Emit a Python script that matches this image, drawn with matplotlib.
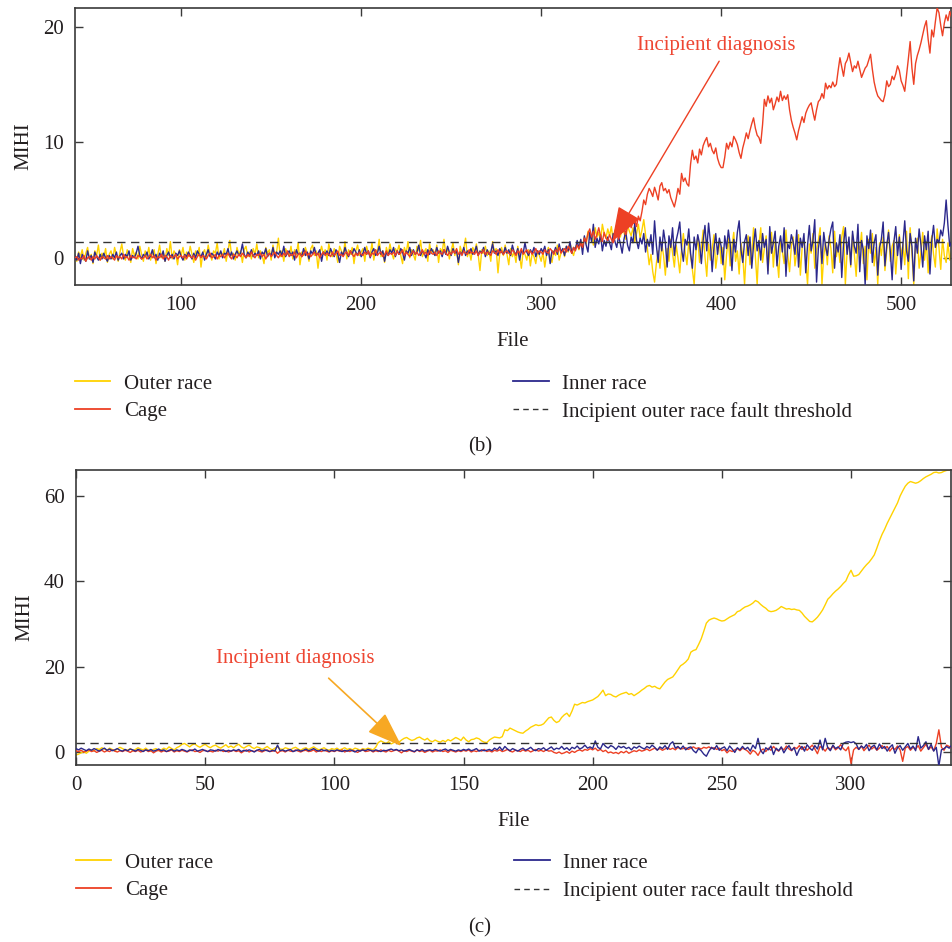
import numpy as np
import matplotlib
matplotlib.use("Agg")
import matplotlib.pyplot as plt
from matplotlib.lines import Line2D

plt.rcParams['font.family'] = ['Liberation Serif', 'DejaVu Serif']
plt.rcParams['text.color'] = '#231f20'
plt.rcParams['axes.labelcolor'] = '#231f20'
plt.rcParams['xtick.color'] = '#231f20'
plt.rcParams['ytick.color'] = '#231f20'

YELLOW = '#ffd200'
RED = '#ed4024'
BLUE = '#2b288c'
TXT_RED = '#ee4632'
ORANGE = '#f7a823'

# ---------------- panel (b): files 41 .. 528 ----------------
b_start = 41
b_threshold = 1.4

b_outer = [
    0.2, -0.3, 0.5, 0.1, 0.7, -0.2, 0.4, 0.9, -0.1, 0.3, -0.5, 0.6, 0.2, 1.1, -0.2, 0.4, 0.0, 0.8, -0.4, 0.3,
    0.6, -0.1, 0.9, 0.2, -0.3, 0.5, 1.2, 0.1, -0.2, 0.7, 0.3, -0.4, 0.8, 0.2, 0.5, -0.1, 1.0, 0.3, -0.3, 0.6,
    0.1, 0.9, -0.2, 0.4, 0.7, -0.5, 0.3, 1.1, 0.0, 0.5, -0.3, 0.8, 0.2, 1.4, -0.1, 0.6, 0.3, -0.6, 0.7, 0.2,
    0.9, -0.2, 0.5, 0.1, 1.0, 0.3, -0.4, 0.6, 0.2, 0.9, -0.8, 0.4, 0.7, 0.0, 1.1, 0.3, -0.2, 0.6, 0.4, 1.3,
    -0.1, 0.5, 0.2, 0.8, -0.3, 0.6, 1.5, 0.2, 0.4, -0.2, 0.9, 0.3, 0.6, -0.4, 0.7, 1.0, 0.1, 0.5, -0.1, 0.8,
    0.3, 1.2, 0.0, 0.6, 0.2, -0.5, 0.9, 0.4, 0.7, -0.2, 1.1, 0.3, 0.5, 1.7, 0.1, 0.6, -0.3, 0.8, 0.4, 0.2,
    1.0, -0.1, 0.7, 0.3, 1.3, -0.6, 0.5, 0.2, 0.9, 0.4, -0.3, 0.8, 1.1, 0.2, 0.6, -0.9, 0.4, 1.0, 0.3, 0.7,
    -0.2, 1.2, 0.5, 0.1, 0.8, 0.4, -0.4, 1.0, 0.6, 0.2, 1.4, -0.1, 0.7, 0.3, 0.9, -0.5, 0.6, 1.1, 0.2, 0.5,
    0.8, -0.3, 1.0, 0.4, 0.2, 1.3, -0.2, 0.7, 0.5, 1.6, 0.1, 0.6, -0.4, 0.9, 0.3, 1.2, 0.4, -0.1, 0.8, 0.5,
    1.1, 0.2, -0.5, 0.9, 0.4, 1.4, 0.0, 0.7, 0.3, -0.2, 1.0, 0.6, 1.5, 0.1, 0.5, 0.8, -0.3, 1.2, 0.4, 0.7,
    0.2, 1.1, -0.4, 0.8, 0.5, 1.6, 0.3, 0.9, -0.1, 0.6, 1.3, 0.2, 0.7, -0.6, 1.0, 0.4, 0.8, 1.7, 0.1, 0.6,
    -0.2, 0.9, 0.5, 1.2, 0.3, -1.1, 0.7, 0.4, 1.0, 0.2, 0.6, -0.3, 1.4, 0.5, 0.8, -1.3, 0.4, 0.9, 0.2, 1.1,
    0.3, -0.6, 0.8, 0.1, 0.5, -0.4, 1.0, 0.2, -0.9, 0.6, 0.3, -0.2, 0.7, -0.7, 0.4, 0.1, -0.5, 0.6, 0.2, -0.3,
    0.5, -0.8, 0.3, 0.9, 0.0, -0.4, 0.6, 0.2, 1.1, -0.2, 0.4, 0.8, 0.1, 1.0, 0.5, 1.3, 0.6, 0.2, 0.9, 1.2,
    0.7, 1.5, 0.9, 1.8, 1.2, 2.3, 1.6, 2.0, 1.1, 2.6, 1.8, 2.2, 1.4, 2.9, 2.1, 1.7, 2.5, 1.9, 2.7, 1.5,
    2.4, 2.0, 3.0, 1.8, 2.6, 2.2, 1.6, 2.8, 2.3, 1.9, 2.6, 1.4, 2.1, 2.9, 1.7, 2.4, 3.3, 2.0, 0.8, -0.6,
    0.3, -1.2, -2.1, -0.5, 0.6, -0.9, 1.2, 0.2, -1.5, 0.8, -0.3, 1.6, 0.4, -0.8, 1.1, 0.0, -1.3, 0.7, 2.1, 0.5,
    -0.6, 1.4, 0.2, -1.0, -2.3, 0.6, 1.8, -0.4, 0.9, 2.4, 0.1, -1.6, 1.2, -0.2, 0.8, 2.0, -0.9, 0.4, 1.5, -0.5,
    0.9, -1.9, 0.3, 1.7, -0.7, 1.0, 2.2, -0.3, 0.6, -1.4, 1.3, 0.2, -2.3, 0.7, 1.9, -0.6, 0.4, 2.6, 0.1, -2.3,
    1.1, 2.6, -0.4, 0.8, 1.9, -1.1, 0.5, 2.2, -0.8, 1.4, 0.0, -1.7, 1.6, 0.6, -0.5, 2.4, 0.3, -1.2, 1.0, 1.8,
    -0.7, 0.5, 2.0, -1.5, 0.9, 1.7, -0.3, -2.3, 1.2, 0.4, 2.1, -0.9, 0.7, 1.5, 2.6, -2.3, 0.2, 1.3, -0.6, 1.9,
    0.8, -1.3, 2.3, 0.1, 1.1, -0.4, 1.8, 2.7, -2.3, 0.6, 1.4, -0.8, 2.0, 0.3, -1.6, 1.2, 0.7, 2.2, -0.5, 1.0,
    -1.9, 1.6, 0.4, 2.1, -0.7, 0.9, -2.3, 1.3, 0.2, 1.8, -1.1, 0.6, 2.4, -0.3, 1.0, 1.5, -1.4, 0.8, 2.0, 0.1,
    1.2, -0.6, 2.3, -1.8, 2.6, 0.4, -2.3, 1.1, 1.7, -0.9, 0.5, 2.2, -0.2, 1.4, -1.3, 0.8, 1.9, 0.3, -0.8, 2.5,
    0.9, -1.0, 1.6, 0.2, -0.4, 1.3, -0.2, 0.6,
]

b_inner = [
    0.1, -0.2, 0.4, -0.5, 0.3, 0.0, -0.3, 0.6, -0.1, 0.2, -0.4, 0.5, 0.1, -0.2, 0.3, -0.1, 0.4, 0.0, -0.3, 0.2,
    -0.1, 0.3, 0.0, 0.5, -0.2, 0.2, 0.4, -0.1, 0.3, 0.1, 0.6, -0.2, 0.2, 0.0, 0.4, 1.0, 0.2, -0.1, 0.3, 0.1,
    0.5, -0.1, 0.2, 0.7, 0.0, 0.3, -0.2, 0.4, 0.1, 0.6, -0.3, 0.2, 0.5, 0.0, 0.3, -0.1, 0.4, 0.2, 0.6, 0.1,
    -0.2, 0.3, 0.1, 0.5, 0.2, -0.1, 0.4, 0.0, 0.6, 0.3, 0.1, 0.5, -0.2, 0.3, 0.7, 0.1, 0.4, 0.2, -0.1, 0.5,
    0.2, 0.6, 0.0, 0.4, 0.3, 0.8, 0.1, 0.5, -0.1, 0.3, 0.6, 0.2, 0.4, 1.2, 0.3, 0.0, 0.5, 0.2, 0.7, 0.1,
    0.4, 0.2, 0.6, -0.1, 0.5, 0.3, 0.8, 0.1, 0.4, 0.2, 0.9, 0.0, 0.5, 0.3, 0.6, 0.2, 1.0, 0.1, 0.4, 0.6,
    0.2, 0.5, -0.2, 0.7, 0.3, 0.4, 0.1, 0.8, 0.2, 0.5, -0.1, 0.6, 0.3, 0.9, 0.2, 0.4, 0.7, -0.3, 0.5, 0.3,
    0.6, 0.2, 0.8, 0.4, 0.1, 0.7, 0.3, -0.4, 0.5, 0.2, 0.9, 0.4, 0.1, 0.6, 0.3, 0.8, 0.5, 0.2, 0.7, 0.1,
    0.4, 0.9, 0.3, 0.6, 0.0, 0.5, 0.8, 0.2, 0.4, 1.0, 0.3, 0.6, -0.3, 0.5, 0.2, 0.7, 0.4, 0.9, 0.1, 0.6,
    0.3, 0.8, 0.5, -0.2, 0.6, 0.4, 0.9, 0.2, 0.7, 0.3, 0.5, 1.1, 0.2, 0.6, 0.4, 0.0, 0.7, 0.3, 0.8, 0.5,
    0.2, 0.9, 0.4, 0.6, 0.1, 0.7, 0.3, 1.0, 0.5, 0.2, 0.8, 0.4, 0.6, -0.4, 0.5, 0.3, 0.9, 0.2, 0.6, 0.4,
    0.8, 0.3, 0.5, 1.0, 0.2, 0.6, 0.4, 0.9, 0.1, 0.7, 0.3, 0.5, 1.2, 0.4, 0.6, 0.2, 0.8, 0.5, 0.3, 0.9,
    0.4, 0.7, 0.2, 1.1, 0.5, 0.3, 0.8, -0.2, 0.6, 0.4, 1.3, 0.5, 0.2, 0.7, 0.4, 0.9, 0.1, 0.6, 0.3, 0.8,
    0.5, 1.0, 0.2, 0.7, -0.5, 0.6, 0.4, 0.9, 0.3, 1.2, 0.5, 0.8, 0.2, 1.0, 0.6, 1.4, 0.4, 0.9, 0.7, 1.5,
    0.8, 1.6, 0.3, 1.9, 1.1, 0.5, 2.2, 1.4, 2.9, 0.9, 1.7, 1.2, 2.0, 0.6, 1.5, 1.0, 1.8, 1.3, 0.7, 2.1,
    1.4, 0.9, 1.9, 1.2, 0.4, 1.6, 2.3, 1.1, 0.6, 1.8, 1.3, 3.0, 1.5, 0.8, 1.7, 1.2, 2.1, 0.5, 1.6, 1.0,
    2.0, 0.3, 3.2, 1.1, -0.4, 1.8, 0.6, 2.4, 1.3, -0.8, 1.9, 0.9, 2.6, 0.2, 1.5, 2.2, 3.1, 0.8, -0.3, 1.6,
    1.1, 2.5, 0.4, -0.9, 1.8, 0.7, 2.0, 1.2, -0.5, 1.5, 2.8, 0.6, 3.0, 1.4, -1.2, 0.9, 2.1, 0.3, 1.7, 1.0,
    -0.6, 1.9, 0.8, 2.4, 1.2, -1.1, 1.6, 0.5, 2.2, 3.2, 0.7, -0.4, 1.4, 2.0, 0.2, 1.8, -0.9, 1.1, 2.5, 0.6,
    1.5, -0.2, 2.1, 0.9, 1.6, -1.4, 2.7, 0.4, 1.3, 2.3, -0.7, 1.0, 1.9, 0.5, 2.6, -1.6, 1.2, 0.8, 2.0, 1.4,
    0.3, 2.4, -0.8, 1.7, 0.9, 2.1, -1.3, 1.1, 2.8, 0.6, 1.5, 3.3, -2.1, 0.8, 1.9, -0.5, 2.2, 1.0, 0.2, 1.6,
    2.5, 3.1, -0.9, 1.3, 0.5, 2.0, -1.7, 1.2, 2.6, 0.3, 1.8, -0.6, 2.3, 1.0, 0.4, 2.9, -1.2, 1.5, 0.7, -2.3,
    1.9, 0.8, 2.4, -0.4, 1.3, 2.0, -1.5, 0.9, 1.6, 3.1, -0.7, 1.1, 2.2, 0.5, -1.9, 1.4, 2.7, 0.2, 1.8, -1.0,
    1.2, 3.2, 0.6, -0.3, 2.1, 1.0, -2.0, 1.7, 0.4, 2.5, 1.1, -0.8, 1.9, 0.7, 2.3, -1.4, 1.5, 2.8, 0.9, 1.6,
    1.3, 2.4, 1.9, 3.0, 5.0, 2.8, 1.0, 1.4,
]

b_cage = [
    0.0, 0.1, -0.2, 0.0, -0.1, 0.2, -0.3, 0.0, 0.1, -0.2, 0.1, -0.1, 0.2, 0.0, -0.2, 0.1, 0.0, -0.1, 0.2, -0.1,
    0.1, 0.0, -0.2, 0.2, 0.0, 0.1, -0.1, 0.3, 0.0, 0.1, -0.2, 0.2, 0.0, 0.1, -0.1, 0.2, 0.1, -0.1, 0.0, 0.2,
    -0.1, 0.1, 0.3, 0.0, 0.2, -0.2, 0.1, 0.0, 0.3, -0.1, 0.2, 0.1, -0.2, 0.2, 0.0, 0.1, 0.3, -0.1, 0.1, 0.2,
    0.0, 0.2, -0.1, 0.3, 0.1, 0.0, 0.2, -0.2, 0.1, 0.3, 0.0, 0.2, 0.1, -0.1, 0.2, 0.4, 0.0, 0.1, 0.3, -0.1,
    0.2, 0.1, 0.3, 0.0, 0.2, 0.4, 0.1, -0.1, 0.3, 0.2, 0.0, 0.3, 0.1, 0.4, 0.2, 0.0, 0.3, 0.1, 0.5, 0.2,
    0.0, 0.3, 0.2, 0.4, 0.1, 0.3, -0.1, 0.2, 0.4, 0.1, 0.3, 0.5, 0.2, 0.0, 0.3, 0.1, 0.4, 0.2, 0.6, 0.1,
    0.3, 0.2, 0.5, 0.0, 0.3, 0.4, 0.1, 0.3, 0.6, 0.2, 0.4, 0.1, 0.3, 0.5, 0.2, 0.4, 0.0, 0.3, 0.5, 0.2,
    0.4, 0.3, 0.1, 0.5, 0.2, 0.4, 0.6, 0.2, 0.3, 0.1, 0.4, 0.5, 0.2, 0.6, 0.3, 0.1, 0.4, 0.2, 0.5, 0.3,
    0.2, 0.5, 0.3, 0.6, 0.1, 0.4, 0.3, 0.7, 0.2, 0.4, 0.5, 0.1, 0.3, 0.6, 0.2, 0.4, 0.3, 0.5, 0.2, 0.6,
    0.3, 0.4, 0.7, 0.2, 0.5, 0.3, 0.1, 0.4, 0.6, 0.3, 0.5, 0.2, 0.4, 0.7, 0.3, 0.5, 0.2, 0.6, 0.4, 0.3,
    0.5, 0.2, 0.6, 0.4, 0.3, 0.7, 0.4, 0.2, 0.5, 0.3, 0.6, 0.4, 0.8, 0.3, 0.5, 0.2, 0.6, 0.4, 0.3, 0.7,
    0.4, 0.5, 0.3, 0.6, 0.2, 0.5, 0.4, 0.7, 0.3, 0.5, 0.4, 0.2, 0.6, 0.5, 0.3, 0.7, 0.4, 0.6, 0.3, 0.5,
    0.6, 0.4, 0.3, 0.7, 0.5, 0.2, 0.6, 0.4, 0.8, 0.3, 0.5, 0.7, 0.4, 0.6, 0.3, 0.5, 0.8, 0.4, 0.6, 0.5,
    0.3, 0.7, 0.5, 0.4, 0.8, 0.6, 0.3, 0.7, 0.5, 0.9, 0.4, 0.6, 0.8, 0.5, 1.0, 0.7, 0.4, 0.9, 0.6, 1.1,
    0.8, 1.3, 0.9, 1.7, 1.4, 2.1, 2.5, 1.8, 2.3, 1.6, 2.0, 2.6, 1.9, 1.4, 2.2, 1.7, 1.5, 2.0, 1.6, 1.3,
    1.8, 2.4, 1.6, 2.2, 3.0, 2.5, 2.0, 2.8, 3.4, 2.6, 3.1, 3.3, 2.7, 3.6, 3.2, 4.0, 5.0, 4.6, 5.5, 6.0,
    5.7, 5.3, 6.1, 5.6, 5.0, 6.2, 6.5, 5.8, 6.0, 5.6, 5.9, 5.2, 4.8, 4.4, 5.1, 6.0, 5.5, 7.3, 6.6, 6.9,
    6.4, 6.2, 8.1, 9.3, 8.5, 8.8, 8.2, 9.4, 8.9, 9.7, 10.1, 10.4, 9.6, 9.9, 9.3, 9.0, 9.5, 8.6, 8.1, 7.8,
    7.8, 8.7, 9.9, 9.4, 10.0, 9.6, 10.5, 10.2, 9.8, 9.1, 8.6, 9.5, 10.1, 10.8, 10.3, 11.0, 11.6, 12.1, 11.2, 10.6,
    10.4, 9.9, 11.5, 13.7, 13.1, 14.0, 13.4, 13.8, 12.8, 13.3, 13.9, 13.5, 14.4, 13.6, 14.0, 13.7, 14.1, 12.8, 11.9, 11.3,
    10.8, 10.2, 11.0, 11.6, 12.2, 11.7, 12.5, 12.9, 13.2, 13.4, 12.6, 11.9, 12.8, 13.5, 13.7, 14.2, 13.8, 15.1, 14.6, 14.9,
    14.7, 15.2, 14.8, 15.0, 16.2, 17.3, 16.5, 15.7, 16.8, 17.1, 17.7, 16.9, 16.1, 16.6, 16.4, 17.0, 16.3, 15.6, 16.0, 16.4,
    16.6, 17.1, 17.6, 16.3, 15.2, 14.5, 14.0, 13.8, 13.6, 13.5, 14.1, 15.3, 14.8, 15.0, 15.7, 15.4, 15.9, 16.6, 16.2, 15.3,
    14.9, 14.4, 15.8, 17.2, 18.7, 16.4, 15.0, 16.8, 17.5, 18.0, 18.6, 19.3, 20.0, 20.5, 18.9, 17.7, 19.7, 19.1, 20.4, 21.6,
    21.2, 20.1, 19.2, 20.3, 21.0, 20.5, 21.3, 20.8,
]

# ---------------- panel (c): files 0 .. 339 ----------------
c_start = 0
c_threshold = 2.1

c_outer = [
    -0.7, -0.5, -0.2, 0.1, -0.3, 0.2, 0.5, 0.3, 0.8, 0.6, 1.0, 0.7, 0.4, 0.9, 0.6, 0.3, 0.7, 1.1, 0.8, 0.5,
    0.4, 0.8, 0.3, 0.6, 1.0, 0.7, 0.5, 0.9, 0.4, 0.2, 0.6, 0.8, 0.3, 0.5, 0.9, 0.6, 1.2, 0.8, 0.5, 1.0,
    1.3, 1.8, 2.0, 1.6, 1.2, 1.7, 1.9, 1.4, 1.1, 1.5, 1.8, 1.3, 1.0, 1.4, 1.6, 1.2, 0.9, 1.3, 1.7, 1.1,
    1.4, 1.0, 1.5, 1.8, 1.2, 0.9, 1.3, 1.6, 1.1, 0.8, 1.2, 1.0, 0.6, 0.9, 1.3, 0.8, 0.5, 0.9, 1.2, 0.7,
    0.6, 1.0, 0.8, 0.5, 0.9, 1.1, 0.7, 0.4, 0.8, 1.0, 0.6, 0.9, 1.2, 0.8, 0.5, 0.7, 1.0, 0.6, 0.4, 0.8,
    0.6, 0.9, 0.5, 0.7, 1.0, 0.6, 0.8, 0.5, 0.9, 0.7, 0.4, 0.8, 0.6, 0.9, 0.7, 0.5, 1.1, 2.2, 2.6, 2.3,
    2.0, 2.4, 1.9, 2.2, 2.6, 2.3, 2.8, 3.2, 3.4, 3.0, 2.7, 2.9, 3.3, 3.5, 3.1, 2.8, 3.2, 2.6, 2.4, 2.8,
    2.5, 2.3, 2.7, 2.4, 2.9, 2.6, 3.0, 3.4, 3.1, 2.7, 3.5, 2.8, 2.4, 2.9, 3.0, 3.3, 3.1, 2.6, 2.3, 2.2,
    2.8, 3.2, 3.5, 3.4, 3.3, 3.6, 5.2, 5.0, 5.6, 5.3, 5.0, 4.7, 4.5, 4.4, 4.9, 5.3, 5.8, 6.1, 6.4, 6.2,
    6.3, 6.6, 7.3, 8.0, 8.2, 7.4, 6.9, 7.2, 8.1, 8.7, 9.1, 8.3, 9.6, 11.2, 11.0, 11.3, 11.6, 11.5, 11.8, 12.0,
    12.2, 12.6, 13.0, 13.7, 14.5, 13.2, 13.6, 13.5, 13.1, 12.9, 13.3, 13.6, 13.8, 14.0, 13.5, 13.7, 13.2, 13.6, 14.0, 14.5,
    14.9, 15.4, 15.6, 15.2, 15.4, 15.0, 14.8, 15.6, 16.4, 17.0, 17.3, 17.6, 18.4, 19.3, 20.2, 20.6, 21.1, 21.8, 23.4, 23.8,
    24.0, 25.2, 26.5, 28.3, 30.2, 30.9, 31.2, 31.4, 31.2, 30.9, 30.7, 30.8, 31.2, 31.6, 31.9, 32.2, 32.9, 33.1, 33.6, 34.0,
    34.2, 34.5, 34.9, 35.5, 35.2, 34.6, 34.1, 33.7, 33.1, 32.9, 33.0, 33.2, 33.6, 34.1, 33.8, 33.5, 33.6, 33.4, 33.5, 33.3,
    33.2, 32.6, 31.8, 31.2, 30.6, 30.5, 31.0, 31.6, 32.4, 33.3, 34.5, 35.8, 36.4, 37.1, 37.7, 38.2, 38.8, 39.5, 40.1, 41.5,
    42.6, 41.2, 41.3, 41.6, 42.4, 43.2, 43.9, 44.5, 45.3, 46.2, 47.8, 49.5, 51.0, 52.2, 53.6, 54.8, 56.0, 57.2, 58.4, 60.0,
    61.2, 62.3, 63.0, 63.4, 63.2, 63.0, 63.2, 63.6, 64.1, 64.5, 64.8, 65.1, 65.5, 65.6, 65.4, 65.5, 65.8, 66.0, 66.1, 66.2,
]

c_inner = [
    0.8, 0.5, 0.9, 0.6, 0.3, 0.7, 0.4, 0.8, 0.5, 0.2, 0.6, 0.9, 0.4, 0.7, 0.3, 0.5, 0.8, 0.4, 0.2, 0.6,
    0.3, 0.7, 0.5, 0.2, 0.6, 0.4, 0.1, 0.5, 0.3, 0.6, 0.2, 0.4, 0.7, 0.3, 0.5, 0.1, 0.4, 0.6, 0.2, 0.5,
    0.3, 0.6, 0.4, 0.1, 0.5, 0.3, 0.7, 0.2, 0.4, 0.6, 0.3, 0.1, 0.5, 0.4, 0.2, 0.6, 0.3, 0.5, 0.1, 0.4,
    0.2, 0.5, 0.3, 0.6, 0.1, 0.4, 0.2, 0.5, 0.3, 0.0, 0.4, 0.6, 0.2, 0.5, 0.3, 0.1, 0.4, 0.2, 1.6, 0.3,
    0.5, 0.2, 0.4, 0.6, 0.1, 0.3, 0.5, 0.2, 0.4, 0.7, 0.3, 0.5, 0.8, 0.4, 0.2, 0.6, 0.3, 0.5, 0.1, 0.4,
    0.2, 0.5, 0.3, 0.1, 0.4, 0.2, 0.5, 0.3, 0.0, 0.4, 0.2, 0.5, 0.3, 0.6, 0.4, 0.2, 0.5, 0.3, 0.1, 0.4,
    0.3, 0.5, 0.7, 0.4, 0.6, 0.3, 0.5, 0.2, 0.4, 0.6, 0.3, 0.1, 0.5, 0.3, 0.6, 0.2, 0.4, 0.5, 0.3, 0.6,
    0.4, 0.2, 0.5, 0.7, 0.3, 0.6, 0.4, 0.2, 0.5, 0.3, 0.6, 0.4, 0.7, 0.3, 0.5, 0.8, 0.2, 0.5, 0.3, 0.4,
    0.6, 0.3, 0.9, 0.5, 1.2, 0.4, 1.3, 0.7, 0.3, 0.8, 0.5, 0.2, 0.6, 0.9, 0.4, 0.7, 1.1, 0.5, 0.3, 0.8,
    0.6, 1.0, 0.4, 0.8, 1.2, 0.5, 0.9, 0.7, 1.3, 0.6, 1.0, 0.4, 1.1, 0.8, 1.4, 0.7, 1.0, 1.6, 0.9, 1.2,
    0.8, 2.6, 1.1, 0.7, 2.0, 1.3, 0.9, 1.5, 1.2, 0.6, 1.4, 1.0, 1.3, 0.8, 1.1, 0.5, 1.2, 0.9, 1.4, 1.0,
    0.7, 1.3, 0.9, 1.6, 1.1, 0.4, 1.2, 0.8, 1.5, 0.6, 1.9, 2.4, 0.9, 1.3, 0.7, 1.4, 0.5, 1.0, 1.2, 0.3,
    -0.2, 0.8, 0.3, -0.5, -1.0, 0.2, 1.1, 0.6, 1.5, 0.4, 0.9, 1.2, 0.3, 1.4, 0.7, -0.1, 1.0, 0.5, 1.3, 0.6,
    1.1, 0.2, 1.6, 0.8, 3.2, 0.4, -0.4, 1.0, 0.5, 1.4, -0.6, 0.9, 0.3, 1.2, -0.2, 0.8, 1.5, 0.4, 1.0, -0.8,
    0.6, 1.3, 0.2, 1.7, 0.9, 0.4, 1.5, 0.7, 2.8, 0.5, 3.2, 1.0, 0.3, 1.6, 0.8, 1.2, 0.5, 2.0, 2.3, 2.4,
    2.2, 2.4, 1.9, 0.6, 1.4, 0.9, 1.8, 0.3, 1.2, 1.6, 0.5, 1.9, 0.8, 1.3, 0.2, 1.1, 1.7, -0.3, 1.0, 1.5,
    0.4, 1.2, 2.0, 0.7, 1.4, 0.3, 3.6, 0.9, 1.5, 2.4, 0.6, 1.8, 0.2, 1.1, -3.3, 0.5, 0.8, 1.3, 0.9, 1.6,
]

c_cage = [
    0.3, 0.1, 0.4, 0.0, 0.2, 0.5, 0.1, 0.3, -0.1, 0.2, 0.4, 0.0, 0.3, 0.1, 0.5, 0.2, 0.0, 0.3, 0.1, 0.4,
    0.2, -0.1, 0.3, 0.1, 0.4, 0.0, 0.2, 0.5, 0.1, 0.3, -0.2, 0.2, 0.4, 0.0, 0.3, 0.1, 0.2, 0.5, 0.0, 0.3,
    0.1, 0.4, 0.2, 0.0, 0.3, 0.5, 0.1, 0.2, -0.1, 0.3, 0.4, 0.1, 0.2, 0.0, 0.4, 0.2, 0.5, 0.1, 0.3, 0.0,
    0.2, 0.4, 0.1, 0.3, -0.2, 0.2, 0.5, 0.0, 0.3, 0.1, 0.4, 0.2, 0.0, 0.3, 0.5, 0.1, 0.2, 0.4, -0.3, 0.2,
    0.3, 0.0, 0.4, 0.2, 0.1, 0.5, 0.2, 0.0, 0.3, 0.4, 0.1, 0.2, 0.5, 0.0, 0.3, 0.1, 0.4, 0.2, 0.0, 0.3,
    0.1, 0.4, 0.2, 0.5, 0.0, 0.3, 0.1, 0.4, 0.2, -0.1, 0.3, 0.5, 0.1, 0.2, 0.4, 0.0, 0.3, 0.1, 0.5, 0.2,
    0.0, 0.4, 0.1, 0.3, 0.5, 0.2, -0.2, 0.3, 0.1, 0.4, 0.2, 0.0, 0.5, 0.1, 0.3, -0.1, 0.2, 0.4, 0.0, 0.3,
    0.2, 0.5, 0.1, 0.3, -0.1, 0.4, 0.2, 0.0, 0.3, 0.1, 0.4, 0.2, 0.5, 0.0, 0.3, 0.1, 0.4, 0.2, 0.6, 0.1,
    0.3, 0.0, 0.4, 0.2, 0.5, 0.1, 0.3, 0.6, 0.2, 0.0, 0.4, 0.3, 0.1, 0.5, 0.2, 0.4, 0.0, 0.3, 0.6, 0.2,
    0.4, 0.1, 0.5, 0.2, 0.3, -0.1, -0.3, 0.0, -0.4, -0.2, 0.1, -0.3, 0.2, -0.1, 0.3, 0.5, 0.2, 0.6, 0.4, 0.8,
    0.5, 0.9, 0.3, 0.6, 0.1, 0.4, -0.2, 0.0, -0.3, -0.1, -0.4, 0.1, -0.2, 0.2, -0.3, 0.0, 0.3, 0.1, 0.5, 0.2,
    0.4, 0.7, 0.3, 0.6, 0.9, 0.5, 0.8, 0.4, 0.7, 1.0, 0.6, 0.9, 0.5, 1.1, 0.7, 0.8, 1.0, 0.6, 0.9, 1.2,
    0.8, 1.0, 0.7, 1.1, 0.9, 1.2, 0.8, 1.0, 0.6, 0.9, 0.3, 0.6, -0.2, 0.4, 0.1, 0.5, 0.8, 0.3, 0.9, 0.6,
    0.2, -0.5, 0.4, 0.0, -0.8, 0.3, 0.7, 0.1, 0.9, 0.4, 1.3, 0.6, 0.2, 1.0, 0.5, 1.4, 0.7, 0.3, 1.1, 0.8,
    1.5, 0.6, 1.2, 0.4, 1.0, 1.6, 0.7, -0.4, 1.3, 0.9, 0.2, 1.1, 0.6, 1.4, 0.5, 1.0, 1.7, 0.8, 0.3, 1.2,
    -2.7, 0.5, 1.1, 0.6, 1.4, 0.3, 1.0, 1.6, 0.7, 1.2, 0.4, 0.9, 1.5, 0.8, 1.3, 0.2, 1.0, 0.6, 1.4, 0.5,
    -2.2, 0.9, 1.3, 0.4, 1.1, 0.7, 1.5, 0.2, 1.0, 1.8, 0.6, 1.2, 0.3, 2.0, 5.2, 1.1, 0.4, 1.6, 1.3, 0.9,
]

labels = ['Outer race', 'Cage', 'Inner race', 'Incipient outer race fault threshold']
FS = 15


def draw_panel(ax, start, outer, inner, cage, thr, front):
    x_o = np.arange(start, start + len(outer))
    x_i = np.arange(start, start + len(inner))
    x_c = np.arange(start, start + len(cage))
    ax.plot(x_o, outer, color=YELLOW, lw=1.0, zorder=2)
    if front == 'cage':
        ax.plot(x_i, inner, color=BLUE, lw=1.0, zorder=3)
        ax.plot(x_c, cage, color=RED, lw=1.0, zorder=4)
    else:
        ax.plot(x_c, cage, color=RED, lw=1.0, zorder=3)
        ax.plot(x_i, inner, color=BLUE, lw=1.0, zorder=4)
    ax.axhline(thr, color='#333333', lw=1.0, dashes=(6, 4), zorder=5)

    for s in ax.spines.values():
        s.set_color('#3a3a3a')
        s.set_linewidth(1.2)
    ax.tick_params(direction='in', top=True, right=True, length=6, width=1.0,
                   labelsize=FS, pad=8, color='#3a3a3a')
    ax.set_xlabel('File', fontsize=FS, labelpad=12)
    ax.set_ylabel('MIHI', fontsize=FS)
    ax.yaxis.set_label_coords(-0.047, 0.5)

    handles = [Line2D([], [], color=YELLOW, lw=1.3),
               Line2D([], [], color=RED, lw=1.3),
               Line2D([], [], color=BLUE, lw=1.3),
               Line2D([], [], color='#333333', lw=1.0, dashes=(4, 3))]
    return handles


def add_legend(ax, handles, y):
    ax.legend(handles, labels, ncol=2, loc='upper left', bbox_to_anchor=(0, y),
              frameon=False, fontsize=FS, handlelength=1.7, handletextpad=0.65,
              columnspacing=14.45, labelspacing=0.39, borderaxespad=0, borderpad=0)


fig = plt.figure(figsize=(9.53, 9.42), dpi=100)

# panel (b)
ax1 = fig.add_axes([75 / 953, 1 - 285 / 942, 876 / 953, 277 / 942])
h = draw_panel(ax1, b_start, b_outer, b_inner, b_cage, b_threshold, 'cage')
ax1.set_xlim(41, 527.7)
ax1.set_ylim(-2.35, 21.6)
ax1.set_xticks([100, 200, 300, 400, 500])
ax1.set_yticks([0, 10, 20])
ax1.annotate('', xy=(339.4, b_threshold), xytext=(398.9, 17.0),
             arrowprops=dict(arrowstyle='-|>,head_length=1.1,head_width=0.4',
                             color=RED, lw=1.0, shrinkA=0, shrinkB=0,
                             mutation_scale=20), zorder=6)
ax1.text(397, 18.4, 'Incipient diagnosis', color=TXT_RED, fontsize=FS,
         ha='center', va='center', zorder=6)
add_legend(ax1, h, -0.321)
fig.text(480 / 953, 1 - 447 / 942, '(b)', fontsize=FS, ha='center', va='center')

# panel (c)
ax2 = fig.add_axes([76 / 953, 1 - 765 / 942, 875 / 953, 295 / 942])
h = draw_panel(ax2, c_start, c_outer, c_inner, c_cage, c_threshold, 'inner')
ax2.set_xlim(0, 338.7)
ax2.set_ylim(-3.05, 66.1)
ax2.set_xticks([0, 50, 100, 150, 200, 250, 300])
ax2.set_yticks([0, 20, 40, 60])
ax2.annotate('', xy=(126, 1.4), xytext=(97.8, 17.3),
             arrowprops=dict(arrowstyle='-|>,head_length=1.1,head_width=0.4',
                             color=ORANGE, lw=1.2, shrinkA=0, shrinkB=0,
                             mutation_scale=20), zorder=6)
ax2.text(85, 22, 'Incipient diagnosis', color=TXT_RED, fontsize=FS,
         ha='center', va='center', zorder=6)
add_legend(ax2, h, -0.299)
fig.text(480 / 953, 1 - 928 / 942, '(c)', fontsize=FS, ha='center', va='center')

fig.savefig('out.png', dpi=100)
